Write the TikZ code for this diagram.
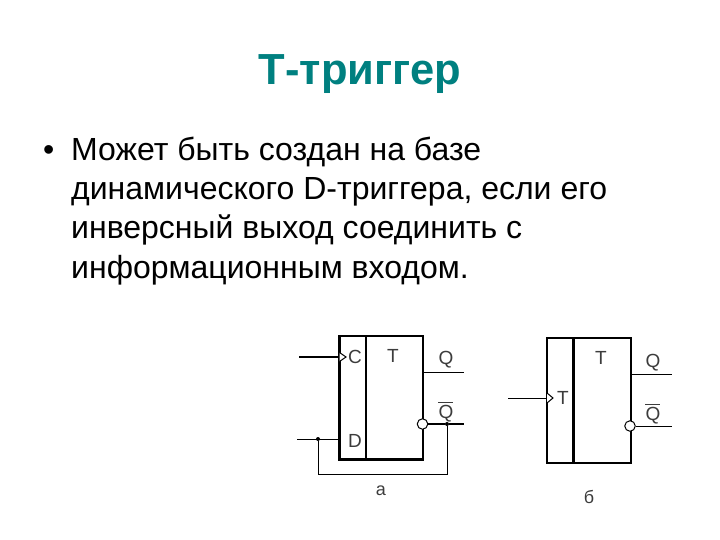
\documentclass[tikz,border=0pt]{standalone}
\usepackage{fontspec}
\setmainfont{Liberation Sans}
\definecolor{titleteal}{RGB}{0,128,128}
\definecolor{lbl}{RGB}{60,60,60}
\tikzset{
  x=1pt,y=-1pt,
  titletext/.style={anchor=base,inner sep=0pt,text=titleteal,font=\fontsize{43.5}{48}\selectfont\bfseries},
  bodytext/.style={anchor=base west,inner sep=0pt,text=black,font=\fontsize{32}{39}\selectfont},
  ff/.style={draw=black,line width=2.2pt,fill=none,inner sep=0pt,minimum width=0pt},
  wire/.style={draw=black,line width=1pt},
  thickwire/.style={draw=black,line width=1.6pt},
  divider/.style={draw=black,line width=2.2pt},
  lab/.style={inner sep=0pt,text=lbl,font=\fontsize{19}{20}\selectfont},
  smalllab/.style={inner sep=0pt,text=lbl,font=\fontsize{18}{19}\selectfont},
  bubble/.style={circle,draw=black,line width=1pt,fill=white,minimum size=10.5pt,inner sep=0pt},
  junction/.style={circle,fill=black,minimum size=4pt,inner sep=0pt},
  clock/.style={draw=black,line width=1pt,fill=white},
}
\begin{document}
\begin{tikzpicture}
\useasboundingbox (0,0) rectangle (720,540);
\node[titletext] (title) at (360,85) {Т-триггер};
\node[bodytext] (bullet) at (43,161) {•};
\node[bodytext] (l1) at (71,161) {Может быть создан на базе};
\node[bodytext] (l2) at (71,200) {динамического D-триггера, если его};
\node[bodytext] (l3) at (71,239) {инверсный выход соединить с};
\node[bodytext] (l4) at (71,278) {информационным входом.};
% left flip-flop
\coordinate (aTL) at (339.5,336);
\coordinate (aBR) at (423,459.5);
\draw[ff] (aTL) rectangle (aBR);
\coordinate (aDt) at (366,336);
\coordinate (aDb) at (366,459.5);
\draw[divider] (aDt) -- (aDb);
\node[lab] (aC) at (355,357) {C};
\node[lab] (aT) at (393,356) {T};
\node[lab] (aQ) at (446,360) {Q};
\node[lab] (aNQ) at (446,414) {Q};
\draw[line width=1pt,draw=lbl] (aNQ.north west)++(0,-3) -- ++(14.5,0);
\node[lab] (aD) at (355,441) {D};
\node[smalllab] (aa) at (381,491) {а};
\coordinate (aCin) at (299,357);
\coordinate (aCpin) at (339.5,357);
\draw[thickwire] (aCin) -- (aCpin);
\draw[clock] (339.5,352.5) -- (346,357) -- (339.5,361.5);
\coordinate (aQp) at (423,372);
\coordinate (aQe) at (464,372);
\draw[wire] (aQp) -- (aQe);
\coordinate (aNQe) at (464,424);
\node[junction] (aj1) at (447,424) {};
\draw[thickwire] (aj1) -- (aNQe);
\node[bubble] (abub) at (422.5,424) {};
\draw[thickwire] (abub) -- (aj1);
\coordinate (aDin) at (297,439);
\coordinate (aDp) at (339.5,439);
\node[junction] (aj2) at (318,439) {};
\draw[wire] (aDin) -- (aDp);
\coordinate (afbL) at (318,474);
\coordinate (afbR) at (447,474);
\draw[wire] (aj2) -- (afbL) -- (afbR) -- (aj1);
% right flip-flop
\coordinate (bTL) at (547,338);
\coordinate (bBR) at (631,463);
\draw[ff] (bTL) rectangle (bBR);
\coordinate (bDt) at (573.5,338);
\coordinate (bDb) at (573.5,463);
\draw[divider] (bDt) -- (bDb);
\node[lab] (bT) at (601,358) {T};
\node[lab] (bTin) at (563,398) {T};
\node[lab] (bQ) at (653,363) {Q};
\node[lab] (bNQ) at (653,416) {Q};
\draw[line width=1pt,draw=lbl] (bNQ.north west)++(0,-3) -- ++(14.5,0);
\node[smalllab] (bb) at (589,497) {б};
\coordinate (bin) at (508,398);
\coordinate (bpin) at (547,398);
\draw[wire] (bin) -- (bpin);
\draw[clock] (547,393) -- (553,398) -- (547,403);
\coordinate (bQp) at (631,374);
\coordinate (bQe) at (672,374);
\draw[wire] (bQp) -- (bQe);
\node[bubble] (bbub) at (630,426) {};
\coordinate (bNQe) at (672,426);
\draw[wire] (bbub) -- (bNQe);
\end{tikzpicture}
\end{document}
